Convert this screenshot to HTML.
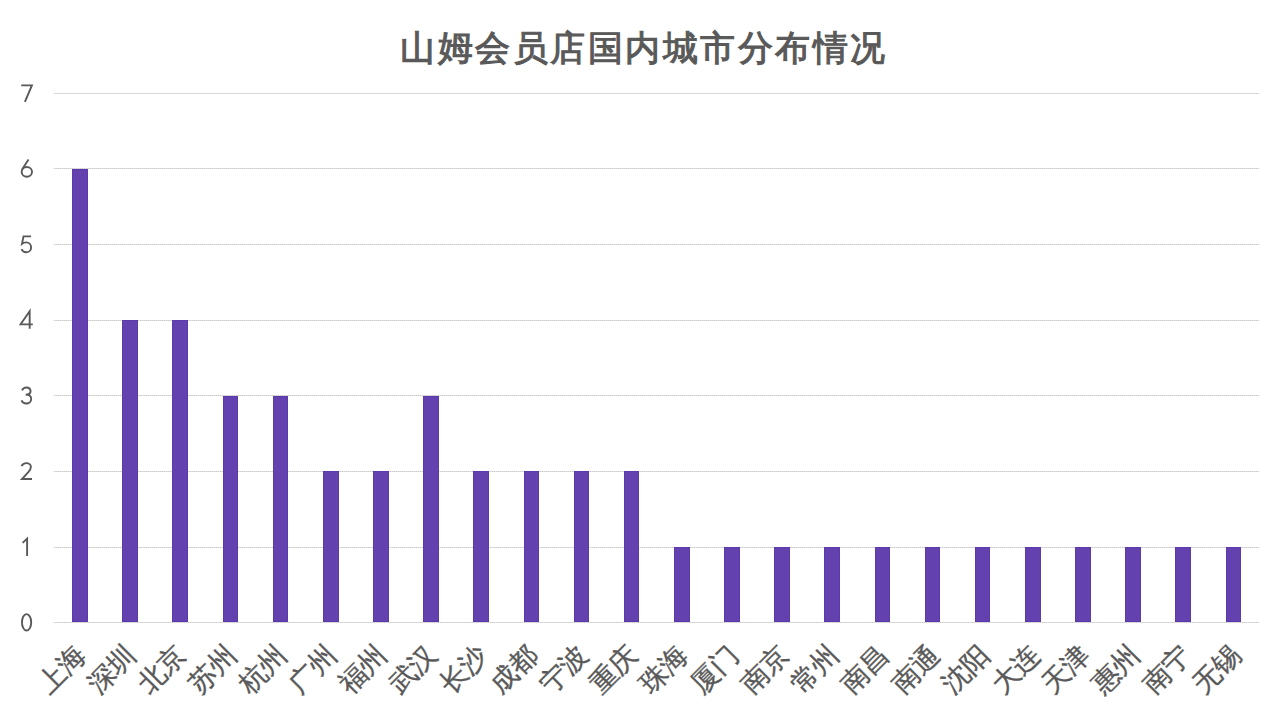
<!DOCTYPE html>
<html><head><meta charset="utf-8"><style>
html,body{margin:0;padding:0;background:#fff;width:1280px;height:720px;overflow:hidden;}
body{position:relative;font-family:"Liberation Sans",sans-serif;color:#595959;}
.t{position:absolute;left:1px;width:1286px;top:29.5px;text-align:center;font-size:35px;line-height:1;letter-spacing:2.5px;-webkit-text-stroke:1.1px #595959;white-space:nowrap;}
.g{position:absolute;left:54px;width:1205px;height:1px;background:repeating-linear-gradient(to right,#cbcbcb 0 1px,#e1e1e1 1px 2px);}
.b{position:absolute;background:#6342b0;box-shadow:inset 0 0 0 1px #5a3aac;}
.yd{position:absolute;left:0;top:0;}
.xl{position:absolute;font-size:27.3px;-webkit-text-stroke:0.35px #595959;line-height:1;white-space:nowrap;transform-origin:100% 0;transform:rotate(-45deg);}
</style></head><body>
<div class="t">山姆会员店国内城市分布情况</div>
<div class="g" style="top:622px"></div>
<div class="g" style="top:547px"></div>
<div class="g" style="top:471px"></div>
<div class="g" style="top:395px"></div>
<div class="g" style="top:320px"></div>
<div class="g" style="top:244px"></div>
<div class="g" style="top:168px"></div>
<div class="g" style="top:93px"></div>
<svg class="yd" width="50" height="720" viewBox="0 0 50 720" fill="none" stroke="#595959" stroke-width="1.9">
<g transform="translate(14,81)"><path d="M7.2,4.33 H17.9 L10.9,20.9"/></g>
<g transform="translate(14,158)"><path d="M14.5,1.4 L8.1,11.6"/><ellipse cx="12.83" cy="13.83" rx="5.2" ry="4.88"/></g>
<g transform="translate(14,233)"><path d="M17,3.33 H9.5 L8.0,10.8 C9.3,9.7 10.6,9.4 12.2,9.4 C15.2,9.4 17.1,11.6 17.1,14.4 C17.1,17.3 15,19.3 12.2,19.3 C10.2,19.3 8.4,18.2 7.5,16.2"/></g>
<g transform="translate(14,308)"><path d="M15.67,20.8 V3.3 L6.6,16.33 H18.8"/></g>
<g transform="translate(14,384)"><path d="M8.0,6.4 C8.8,4.5 10.5,3.45 12.4,3.45 C14.8,3.45 16.55,5.0 16.55,7.3 C16.55,9.3 14.6,10.67 11.6,10.67 C14.9,10.67 17.2,12.4 17.2,15.0 C17.2,17.7 15.0,19.55 12.3,19.55 C10.0,19.55 8.4,18.3 7.5,16.3"/></g>
<g transform="translate(14,459)"><path d="M7.5,7.2 C8.4,5.2 10.2,4.1 12.3,4.1 C14.9,4.1 16.9,5.8 16.9,8.1 C16.9,10.0 15.6,11.6 14.3,13.1 L8.0,20 H18.0"/></g>
<g transform="translate(14,535)"><path d="M8.6,7.9 L13.1,3.6 V21"/></g>
<g transform="translate(14,610)"><ellipse cx="12.58" cy="12.33" rx="4.63" ry="8.2"/></g>
</svg>
<div class="b" style="left:72.17px;width:15.6px;top:169px;height:453px"></div>
<div class="b" style="left:122.33px;width:15.6px;top:320px;height:302px"></div>
<div class="b" style="left:172.47px;width:15.6px;top:320px;height:302px"></div>
<div class="b" style="left:222.62px;width:15.6px;top:396px;height:226px"></div>
<div class="b" style="left:272.77px;width:15.6px;top:396px;height:226px"></div>
<div class="b" style="left:322.92px;width:15.6px;top:471px;height:151px"></div>
<div class="b" style="left:373.07px;width:15.6px;top:471px;height:151px"></div>
<div class="b" style="left:423.22px;width:15.6px;top:396px;height:226px"></div>
<div class="b" style="left:473.37px;width:15.6px;top:471px;height:151px"></div>
<div class="b" style="left:523.53px;width:15.6px;top:471px;height:151px"></div>
<div class="b" style="left:573.67px;width:15.6px;top:471px;height:151px"></div>
<div class="b" style="left:623.83px;width:15.6px;top:471px;height:151px"></div>
<div class="b" style="left:673.98px;width:15.6px;top:547px;height:75px"></div>
<div class="b" style="left:724.12px;width:15.6px;top:547px;height:75px"></div>
<div class="b" style="left:774.27px;width:15.6px;top:547px;height:75px"></div>
<div class="b" style="left:824.42px;width:15.6px;top:547px;height:75px"></div>
<div class="b" style="left:874.58px;width:15.6px;top:547px;height:75px"></div>
<div class="b" style="left:924.73px;width:15.6px;top:547px;height:75px"></div>
<div class="b" style="left:974.88px;width:15.6px;top:547px;height:75px"></div>
<div class="b" style="left:1025.03px;width:15.6px;top:547px;height:75px"></div>
<div class="b" style="left:1075.18px;width:15.6px;top:547px;height:75px"></div>
<div class="b" style="left:1125.33px;width:15.6px;top:547px;height:75px"></div>
<div class="b" style="left:1175.48px;width:15.6px;top:547px;height:75px"></div>
<div class="b" style="left:1225.62px;width:15.6px;top:547px;height:75px"></div>
<div class="xl" style="right:1209.05px;top:641.0px">上海</div>
<div class="xl" style="right:1158.84px;top:641.0px">深圳</div>
<div class="xl" style="right:1108.63px;top:641.0px">北京</div>
<div class="xl" style="right:1058.42px;top:641.0px">苏州</div>
<div class="xl" style="right:1008.21px;top:641.0px">杭州</div>
<div class="xl" style="right:958.00px;top:641.0px">广州</div>
<div class="xl" style="right:907.80px;top:641.0px">福州</div>
<div class="xl" style="right:857.59px;top:641.0px">武汉</div>
<div class="xl" style="right:807.38px;top:641.0px">长沙</div>
<div class="xl" style="right:757.17px;top:641.0px">成都</div>
<div class="xl" style="right:706.96px;top:641.0px">宁波</div>
<div class="xl" style="right:656.75px;top:641.0px">重庆</div>
<div class="xl" style="right:606.55px;top:641.0px">珠海</div>
<div class="xl" style="right:556.34px;top:641.0px">厦门</div>
<div class="xl" style="right:506.13px;top:641.0px">南京</div>
<div class="xl" style="right:455.92px;top:641.0px">常州</div>
<div class="xl" style="right:405.71px;top:641.0px">南昌</div>
<div class="xl" style="right:355.50px;top:641.0px">南通</div>
<div class="xl" style="right:305.30px;top:641.0px">沈阳</div>
<div class="xl" style="right:255.09px;top:641.0px">大连</div>
<div class="xl" style="right:204.88px;top:641.0px">天津</div>
<div class="xl" style="right:154.67px;top:641.0px">惠州</div>
<div class="xl" style="right:104.46px;top:641.0px">南宁</div>
<div class="xl" style="right:54.25px;top:641.0px">无锡</div>
</body></html>
